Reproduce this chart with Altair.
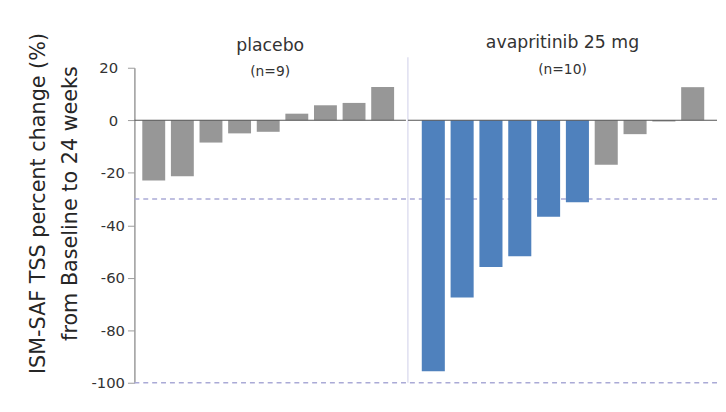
import altair as alt
import pandas as pd

# ---- data ----
placebo_vals = [-23.0, -21.3, -8.5, -5.0, -4.4, 2.5, 5.7, 6.6, 12.7]
avap_vals = [-95.6, -67.5, -55.9, -51.8, -36.8, -31.2, -17.0, -5.3, -0.5, 12.6]
panel_titles = ["placebo", "avapritinib 25 mg"]
panel_subtitles = ["(n=9)", "(n=10)"]
y_ticks = [20, 0, -20, -40, -60, -80, -100]
ref_lines = [-30, -100]
response_cut = -30
y_title = ["ISM-SAF TSS percent change (%)",
           "\u00a0\u00a0\u00a0\u00a0from Baseline to 24 weeks"]
groups = ["responder", "non-responder"]
group_colors = ["#4f81bd", "#979797"]

FONT = "DejaVu Sans"
Y_DOMAIN = [-100, 20]


def make_panel(vals, title, subtitle, width, pad_outer, align, left, title_offset):
    df = pd.DataFrame({"idx": list(range(len(vals))), "value": vals})
    df["group"] = [groups[0] if v <= response_cut else groups[1] for v in vals]
    yscale = alt.Scale(domain=Y_DOMAIN, nice=False, zero=False)
    if left:
        yaxis = alt.Axis(
            values=y_ticks, title=y_title, grid=False,
            titleFont=FONT, titleFontSize=21, titleFontWeight="normal",
            titleColor="#262626", titleAngle=270, titleAlign="center",
            titleBaseline="middle", titleLineHeight=32, titleX=-97, titleY=137,
            labelFont=FONT, labelFontSize=15, labelColor="#333333",
            labelPadding={"condition": {"test": "datum.value >= 0", "value": 10}, "value": 3},
            labelExpr="datum.value < 0 ? '-' + abs(datum.value) : '' + datum.value",
            tickSize=7, tickColor="#9a9a9a", domainColor="#9a9a9a", domainWidth=1.5,
        )
    else:
        yaxis = None
    bars = alt.Chart(df).mark_bar().encode(
        x=alt.X("idx:O", axis=None,
                scale=alt.Scale(paddingInner=0.2, paddingOuter=pad_outer, align=align)),
        y=alt.Y("value:Q", scale=yscale, axis=yaxis),
        color=alt.Color("group:N", scale=alt.Scale(domain=groups, range=group_colors),
                        legend=None),
    )
    dashed = alt.Chart(pd.DataFrame({"value": ref_lines})).mark_rule(
        color="#aaaad6", strokeDash=[5, 4], strokeWidth=1.3
    ).encode(y=alt.Y("value:Q", scale=yscale, axis=yaxis))
    zero = alt.Chart(pd.DataFrame({"value": [0]})).mark_rule(
        color="#555555", strokeWidth=1.2
    ).encode(y=alt.Y("value:Q", scale=yscale, axis=yaxis))
    layers = [dashed, bars, zero]
    if not left:
        sep = alt.Chart(pd.DataFrame({"value": [24], "bot": [-100]})).mark_rule(
            color="#cfcfea", strokeWidth=1
        ).encode(x=alt.value(0), y=alt.Y("value:Q", scale=yscale, axis=None), y2="bot:Q")
        layers = [sep] + layers
    return alt.layer(*layers).properties(
        width=width, height=319,
        title=alt.TitleParams(
            text=title, subtitle=subtitle, font=FONT, fontSize=17.5,
            fontWeight="normal", color="#333333", subtitleFont=FONT,
            subtitleFontSize=14, subtitleColor="#333333", subtitlePadding=11,
            anchor="middle", offset=title_offset, frame="group",
        ),
    )


left = make_panel(placebo_vals, panel_titles[0], panel_subtitles[0], 275, 0.345, 0.4, True, -47)
right = make_panel(avap_vals, panel_titles[1], panel_subtitles[1], 313, 0.462, 0.52, False, -20)

chart = alt.hconcat(left, right, spacing=0).resolve_scale(color="shared").properties(
    padding={"left": 19, "top": 22, "right": 0, "bottom": 10},
    background="white",
).configure_view(stroke=None)

chart.save("out.html", embed_options={"renderer": "svg", "actions": False})
